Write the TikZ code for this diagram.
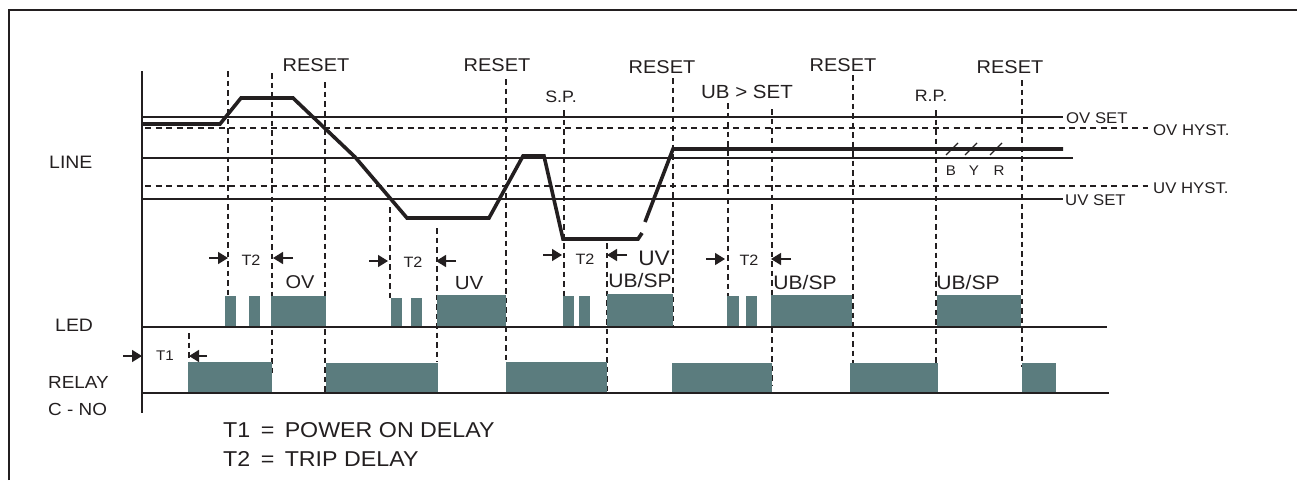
\documentclass[tikz,border=0pt]{standalone}
\usepackage{fontspec}
\setmainfont{Liberation Sans}[FakeStretch=1.08]
\usetikzlibrary{arrows.meta}
\definecolor{ink}{HTML}{231F20}
\definecolor{ledfill}{HTML}{5B7C7E}
\newcommand{\fsz}[1]{\fontsize{#1}{#1}\selectfont}
\begin{document}
\begin{tikzpicture}[x=1pt,y=-1pt,
  guide/.style={draw=ink, line width=1.2pt},
  hdash/.style={draw=ink, line width=1.8pt, dash pattern=on 6pt off 4.5pt},
  vdash/.style={draw=ink, line width=2pt, dash pattern=on 5.5pt off 4pt},
  signal/.style={draw=ink, line width=3.6pt, line join=miter},
  pulse/.style={fill=ledfill, draw=none},
  base/.style={draw=ink, line width=2pt},
  lbl/.style={inner sep=0pt, text=ink},
  tick/.style={draw=ink, line width=1.5pt, -{Triangle[length=10pt,width=12pt]}}]
\useasboundingbox (0,0) rectangle (1297,480);
% frame
\draw[draw=ink, line width=2pt] (9,480) -- (9,10) -- (1297,10);
% axis
\draw[draw=ink, line width=2.5pt] (142,71) -- (142,413);
% dashed verticals
\foreach \x/\a/\b in {228/71/296, 272/73/373, 325/82/393, 390/207/298, 437/228/362,
  506/79/362, 564/110/296, 607/243/393, 673/78/327, 728/103/296, 772/109/386,
  853/75/363, 936/110/373, 1022/80/367, 189/333/372}
  \draw[vdash] (\x,\a) -- (\x,\b);
% threshold lines
\draw[guide] (142,117) -- (1063,117);
\draw[guide] (142,158) -- (1073,158);
\draw[guide] (142,199) -- (1063,199);
\draw[hdash] (145,128) -- (1148,128);
\draw[hdash] (145,186) -- (1148,186);
\node[lbl, anchor=west, font=\fsz{15.5}] (ovset) at (1066,118) {OV SET};
\node[lbl, anchor=west, font=\fsz{15.5}] (ovhyst) at (1153,130) {OV HYST.};
\node[lbl, anchor=west, font=\fsz{15.5}] (uvhyst) at (1153,188) {UV HYST.};
\node[lbl, anchor=west, font=\fsz{15.5}] (uvset) at (1065,200) {UV SET};
% signal
\draw[signal] (142,124) -- (220,124) -- (241,98) -- (293,98) -- (355,157) -- (407,218)
  -- (489,218) -- (523,156) -- (544,156) -- (563,239) -- (638,239) -- (642,233);
\draw[signal] (645,222) -- (673,149) -- (1063,149);
% phase slashes
\foreach \x in {946,965,990}
  \draw[guide] (\x,155) -- (\x+12,143);
\node[lbl, font=\fsz{14}] (phB) at (951,171) {B};
\node[lbl, font=\fsz{14}] (phY) at (974,171) {Y};
\node[lbl, font=\fsz{14}] (phR) at (999,171) {R};
% LED pulses
\foreach \a/\t/\b in {225/296/236, 249/296/260, 271/296/326,
  391/298/402, 411/298/422, 437/295/506,
  563/296/574, 579/296/590, 607/294/673,
  727/296/739, 746/296/757, 771/295/852,
  937/295/1021}
  \fill[pulse] (\a,\t) rectangle (\b,327);
% relay blocks
\foreach \a/\t/\b in {188/362/272, 326/363/438, 506/362/607, 672/363/772, 850/363/938, 1022/363/1056}
  \fill[pulse] (\a,\t) rectangle (\b,393);
% baselines
\draw[base] (142,327) -- (1107,327);
\draw[base] (142,393) -- (1109,393);
% top labels
\foreach \x/\y [count=\i] in {316/65, 497/65, 662/67, 843/65, 1010/67}
  \node[lbl, font=\fsz{18.5}] (reset\i) at (\x,\y) {RESET};
\node[lbl, font=\fsz{16.5}] (sp) at (561,97) {S.P.};
\node[lbl, font=\fsz{19}] (ubset) at (747,92) {UB > SET};
\node[lbl, font=\fsz{16.5}] (rp) at (931,96) {R.P.};
% left labels
\node[lbl, anchor=west, font=\fsz{18}] (line) at (49,162) {LINE};
\node[lbl, anchor=west, font=\fsz{18}] (led) at (55,325) {LED};
\node[lbl, anchor=west, font=\fsz{17.5}] (relay) at (48,382) {RELAY};
\node[lbl, anchor=west, font=\fsz{17.5}] (cno) at (48,409) {C - NO};
% delay markers
\node[lbl, font=\fsz{14}] (t1) at (165,356) {T1};
\draw[tick] (123,356) -- (142,356);
\draw[tick] (207,356) -- (189,356);
\foreach \l/\c/\r/\y/\ty [count=\i] in {209/251/293/258/260, 369/413/456/261/262,
  543/585/627/255/259, 706/749/791/259/260}{
  \node[lbl, font=\fsz{15}] (t2\i) at (\c,\ty) {T2};
  \draw[tick] (\l,\y) -- (\l+19,\y);
  \draw[tick] (\r,\y) -- (\r-20,\y);
}
% state labels
\node[lbl, font=\fsz{18.5}] (ov) at (300,282) {OV};
\node[lbl, font=\fsz{19}] (uv1) at (469,283) {UV};
\node[lbl, font=\fsz{21}] (uv2) at (654,258) {UV};
\node[lbl, font=\fsz{19.5}] (ubsp1) at (640,281) {UB/SP};
\node[lbl, font=\fsz{19.5}] (ubsp2) at (805,283) {UB/SP};
\node[lbl, font=\fsz{19.5}] (ubsp3) at (968,283) {UB/SP};
% legend
\node[lbl, anchor=west, font=\fsz{21.5}] (leg1) at (223,430) {T1\hspace{4pt} = \hspace{4pt}POWER ON DELAY};
\node[lbl, anchor=west, font=\fsz{21.5}] (leg2) at (223,459) {T2\hspace{4pt} = \hspace{4pt}TRIP DELAY};
\end{tikzpicture}
\end{document}
